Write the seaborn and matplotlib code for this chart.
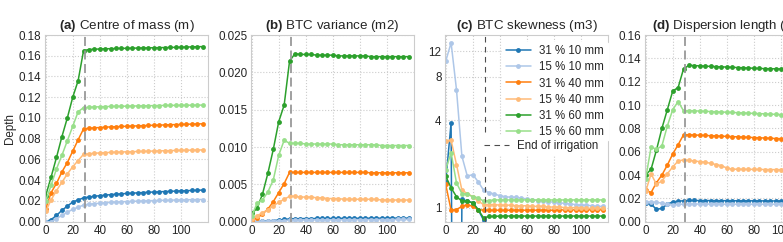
"""
Breakthrough curve moments for the six irrigation treatments
(centre of mass, variance, skewness and dispersion length vs time).
"""

import numpy as np
import matplotlib
matplotlib.use("Agg")
import matplotlib.pyplot as plt
import seaborn as sns

# sampling times, irrigation stops just before day 29
days = list(range(0, 117, 4))
end_irrigation = 29

labels = ['31 % 10 mm', '15 % 10 mm', '31 % 40 mm', '15 % 40 mm', '31 % 60 mm', '15 % 60 mm']
colors = ['#1f77b4', '#aec7e8', '#ff7f0e', '#ffbb78', '#2ca02c', '#98df8a']

# (a) centre of mass (m)
m_31_10 = [0.000, 0.002, 0.006, 0.011, 0.015, 0.019, 0.021, 0.023,
           0.0238, 0.0245, 0.0251, 0.0256, 0.0261, 0.0265, 0.0269, 0.0272, 0.0275, 0.0278, 0.0281,
           0.0284, 0.0286, 0.0288, 0.0291, 0.0293, 0.0295, 0.0297, 0.0299, 0.0301, 0.0303, 0.0305]
m_15_10 = [0.000, 0.000, 0.003, 0.006, 0.009, 0.012, 0.014, 0.016,
           0.0168, 0.0174, 0.0178, 0.0182, 0.0186, 0.0189, 0.0192, 0.0194, 0.0196, 0.0198, 0.0200,
           0.0202, 0.0203, 0.0205, 0.0206, 0.0207, 0.0209, 0.0210, 0.0211, 0.0212, 0.0213, 0.0214]
m_31_40 = [0.012, 0.028, 0.037, 0.048, 0.057, 0.068, 0.079, 0.0895,
           0.0900, 0.0905, 0.0908, 0.0911, 0.0914, 0.0916, 0.0918, 0.0920, 0.0922, 0.0924, 0.0926,
           0.0928, 0.0930, 0.0931, 0.0933, 0.0935, 0.0936, 0.0938, 0.0939, 0.0941, 0.0942, 0.0944]
m_15_40 = [0.010, 0.021, 0.030, 0.038, 0.046, 0.053, 0.059, 0.065,
           0.0655, 0.0660, 0.0663, 0.0666, 0.0668, 0.0670, 0.0672, 0.0674, 0.0675, 0.0677, 0.0678,
           0.0680, 0.0681, 0.0683, 0.0684, 0.0685, 0.0687, 0.0688, 0.0689, 0.0690, 0.0691, 0.0692]
m_31_60 = [0.025, 0.043, 0.062, 0.082, 0.100, 0.120, 0.136, 0.165,
           0.1660, 0.1663, 0.1665, 0.1667, 0.1668, 0.1670, 0.1671, 0.1672, 0.1673, 0.1674, 0.1675,
           0.1676, 0.1677, 0.1678, 0.1679, 0.1680, 0.1681, 0.1682, 0.1684, 0.1685, 0.1687, 0.1688]
m_15_60 = [0.020, 0.035, 0.051, 0.064, 0.078, 0.092, 0.106, 0.110,
           0.1103, 0.1106, 0.1108, 0.1110, 0.1111, 0.1112, 0.1113, 0.1114, 0.1115, 0.1116, 0.1117,
           0.1118, 0.1119, 0.1120, 0.1121, 0.1121, 0.1122, 0.1122, 0.1123, 0.1123, 0.1124, 0.1124]

# (b) BTC variance (m2)
v_31_10 = [0.0, 0.00002, 0.00006, 0.0001, 0.00016, 0.00022, 0.0003, 0.00038,
           0.00040, 0.00041, 0.00042, 0.00042, 0.00043, 0.00043, 0.00044, 0.00044, 0.00045, 0.00045, 0.00045,
           0.00046, 0.00046, 0.00046, 0.00047, 0.00047, 0.00047, 0.00047, 0.00048, 0.00048, 0.00048, 0.00048]
v_15_10 = [0.0, 0.00001, 0.00003, 0.00005, 0.00008, 0.00011, 0.00015, 0.0002,
           0.00021, 0.00022, 0.00023, 0.00023, 0.00024, 0.00024, 0.00025, 0.00025, 0.00026, 0.00026, 0.00027,
           0.00027, 0.00027, 0.00028, 0.00028, 0.00028, 0.00029, 0.00029, 0.00029, 0.00030, 0.00030, 0.00030]
v_31_40 = [0.0002, 0.0005, 0.0010, 0.0017, 0.0027, 0.0039, 0.0051, 0.0066,
           0.0066, 0.0066, 0.0066, 0.0066, 0.0066, 0.0066, 0.0066, 0.0066, 0.0066, 0.0066, 0.0066,
           0.0066, 0.0066, 0.0066, 0.00655, 0.00655, 0.00655, 0.00655, 0.00655, 0.00655, 0.00655, 0.00655]
v_15_40 = [0.0003, 0.0008, 0.0012, 0.0016, 0.0021, 0.0026, 0.0030, 0.0034,
           0.0034, 0.0033, 0.0033, 0.0033, 0.0032, 0.0032, 0.0031, 0.0031, 0.0031, 0.0030, 0.0030,
           0.0030, 0.0030, 0.0030, 0.0030, 0.0030, 0.0029, 0.0029, 0.0029, 0.0029, 0.0029, 0.0029]
v_31_60 = [0.0011, 0.0018, 0.0037, 0.0065, 0.0097, 0.0134, 0.0156, 0.0215,
           0.0225, 0.0224, 0.0224, 0.0224, 0.0223, 0.0223, 0.0223, 0.0223, 0.0222, 0.0222, 0.0222,
           0.0222, 0.0222, 0.0222, 0.0221, 0.0221, 0.0221, 0.0221, 0.0221, 0.0221, 0.0221, 0.0221]
v_15_60 = [0.0007, 0.0025, 0.0029, 0.0040, 0.0056, 0.0089, 0.0109, 0.0105,
           0.0105, 0.0105, 0.0104, 0.0104, 0.0104, 0.0104, 0.0104, 0.0104, 0.0103, 0.0103, 0.0103,
           0.0103, 0.0103, 0.0103, 0.0103, 0.0103, 0.0102, 0.0102, 0.0102, 0.0102, 0.0102, 0.0102]

# (c) BTC skewness (m3), log axis; tiny values fall below the axis
s_31_10 = [1.5, 3.84, 1e-6, 1.14, 1.11, 1.08, 0.97, 0.82,
           0.6, 0.6, 0.6, 0.6, 0.6, 0.6, 0.6, 0.6, 0.6, 0.6, 0.6,
           0.6, 0.6, 0.6, 0.6, 0.6, 0.6, 0.6, 0.6, 0.6, 0.6, 0.6]
s_15_10 = [10.2, 13.7, 6.5, 2.26, 1.65, 1.69, 1.51, 1.32,
           1.27, 1.24, 1.21, 1.19, 1.18, 1.18, 1.16, 1.15, 1.13, 1.12, 1.11,
           1.10, 1.09, 1.08, 1.07, 1.06, 1.05, 1.04, 1.04, 1.03, 1.02, 1.02]
s_31_40 = [1.45, 0.96, 0.97, 1.02, 1.05, 1.02, 0.97, 0.96,
           0.96, 0.96, 0.96, 0.96, 0.96, 0.96, 0.96, 0.96, 0.96, 0.96, 0.96,
           0.96, 0.96, 0.965, 0.965, 0.965, 0.965, 0.965, 0.965, 0.965, 0.965, 0.965]
s_15_40 = [2.87, 2.92, 1.98, 1.32, 1.25, 1.19, 1.11, 1.05,
           1.05, 1.05, 1.04, 1.04, 1.04, 1.03, 1.03, 1.03, 1.02, 1.02, 1.02,
           1.01, 1.01, 1.01, 1.00, 1.00, 1.00, 1.00, 0.99, 0.99, 0.99, 0.99]
s_31_60 = [1.65, 1.37, 1.19, 1.11, 1.11, 1.08, 0.97, 0.85,
           0.87, 0.87, 0.875, 0.875, 0.875, 0.875, 0.875, 0.875, 0.875, 0.875, 0.875,
           0.875, 0.875, 0.875, 0.875, 0.875, 0.875, 0.875, 0.875, 0.875, 0.875, 0.875]
s_15_60 = [1.83, 2.39, 1.48, 1.25, 1.24, 1.19, 1.17, 1.11,
           1.12, 1.13, 1.13, 1.13, 1.13, 1.13, 1.13, 1.13, 1.13, 1.13, 1.13,
           1.13, 1.13, 1.13, 1.13, 1.13, 1.13, 1.13, 1.13, 1.13, 1.13, 1.13]

# (d) dispersion length (m)
d_31_10 = [0.0163, 0.015, 0.0106, 0.0114, 0.015, 0.017, 0.0175, 0.018,
           0.0182, 0.0182, 0.0181, 0.0181, 0.0181, 0.0180, 0.0180, 0.0180, 0.0180, 0.0179, 0.0179,
           0.0179, 0.0179, 0.0179, 0.0178, 0.0178, 0.0178, 0.0178, 0.0178, 0.0178, 0.0178, 0.0178]
d_15_10 = [0.017, 0.017, 0.0165, 0.016, 0.015, 0.014, 0.015, 0.015,
           0.0152, 0.0152, 0.0151, 0.0151, 0.0151, 0.0151, 0.0150, 0.0150, 0.0150, 0.0150, 0.0150,
           0.0150, 0.0150, 0.0150, 0.0150, 0.0150, 0.0150, 0.0150, 0.0150, 0.0150, 0.0150, 0.0150]
d_31_40 = [0.027, 0.025, 0.0335, 0.040, 0.0485, 0.058, 0.066, 0.0745,
           0.0745, 0.0743, 0.0741, 0.0739, 0.0737, 0.0735, 0.0733, 0.0731, 0.0729, 0.0727, 0.0725,
           0.0723, 0.0721, 0.0719, 0.0717, 0.0715, 0.0713, 0.0711, 0.0709, 0.0707, 0.0705, 0.0703]
d_15_40 = [0.026, 0.041, 0.032, 0.035, 0.041, 0.047, 0.052, 0.053,
           0.0525, 0.0520, 0.0515, 0.0510, 0.0500, 0.0490, 0.0480, 0.0460, 0.0450, 0.0450, 0.0449,
           0.0449, 0.0448, 0.0448, 0.0447, 0.0447, 0.0446, 0.0446, 0.0445, 0.0445, 0.0445, 0.0445]
d_31_60 = [0.040, 0.045, 0.0615, 0.080, 0.096, 0.112, 0.115, 0.131,
           0.1340, 0.1338, 0.1335, 0.1333, 0.1331, 0.1329, 0.1327, 0.1325, 0.1323, 0.1321, 0.1319,
           0.1317, 0.1315, 0.1313, 0.1312, 0.1311, 0.1310, 0.1309, 0.1308, 0.1307, 0.1306, 0.1305]
d_15_60 = [0.037, 0.064, 0.062, 0.065, 0.082, 0.096, 0.103, 0.095,
           0.0952, 0.0950, 0.0948, 0.0946, 0.0944, 0.0942, 0.0940, 0.0938, 0.0936, 0.0934, 0.0932,
           0.0930, 0.0928, 0.0926, 0.0924, 0.0922, 0.0920, 0.0918, 0.0917, 0.0916, 0.0915, 0.0914]

panels = [
    (r'$\bf{(a)}$ Centre of mass (m)', [m_31_10, m_15_10, m_31_40, m_15_40, m_31_60, m_15_60]),
    (r'$\bf{(b)}$ BTC variance (m2)', [v_31_10, v_15_10, v_31_40, v_15_40, v_31_60, v_15_60]),
    (r'$\bf{(c)}$ BTC skewness (m3)', [s_31_10, s_15_10, s_31_40, s_15_40, s_31_60, s_15_60]),
    (r'$\bf{(d)}$ Dispersion length (m)', [d_31_10, d_15_10, d_31_40, d_15_40, d_31_60, d_15_60]),
]

sns.set_style('whitegrid', {'grid.linestyle': ':', 'axes.edgecolor': '.8'})
plt.rcParams['font.family'] = ['Liberation Sans', 'DejaVu Sans']
plt.rcParams['mathtext.fontset'] = 'custom'
plt.rcParams['mathtext.rm'] = 'Liberation Sans'
plt.rcParams['mathtext.bf'] = 'Liberation Sans:bold'

W, H = 783, 242
fig = plt.figure(figsize=(W / 100, H / 100), dpi=100)
lefts = [45, 251, 445, 645]
axes = [fig.add_axes([l / W, 20.3 / H, 163 / W, 186.7 / H]) for l in lefts]

for k, (ax, (title, series)) in enumerate(zip(axes, panels)):
    if k == 2:
        ax.set_yscale('log')
    for y, lab, col in zip(series, labels, colors):
        sns.lineplot(x=days, y=y, ax=ax, color=col, label=lab, marker='o',
                     markersize=3.5, markeredgewidth=0, linewidth=1.1, legend=False)
    if k == 2:
        ax.axvline(end_irrigation, color='0.3', lw=0.8, dashes=(5, 4), label='End of irrigation')
    else:
        ax.axvline(end_irrigation, color='0.6', lw=1.3, dashes=(5, 2.5))
    ax.set_xlim(-0.5, 120)
    ax.set_xticks([0, 20, 40, 60, 80, 100])
    ax.set_title(title, fontsize=9.6, pad=4, color='.15')
    ax.tick_params(labelsize=8.4, pad=2.5, length=0)
    ax.set_xlabel('')
    ax.set_ylabel('')

axes[0].set_ylim(0, 0.18)
axes[0].set_yticks(np.arange(0, 0.181, 0.02))
axes[0].yaxis.set_major_formatter('{x:.2f}')
axes[0].set_ylabel('Depth', fontsize=8.4, labelpad=2)

axes[1].set_ylim(0, 0.025)
axes[1].set_yticks(np.arange(0, 0.0251, 0.005))
axes[1].yaxis.set_major_formatter('{x:.3f}')

axes[2].set_ylim(0.8, 15.5)
axes[2].set_yticks([1, 4, 8, 12])
axes[2].yaxis.set_minor_locator(matplotlib.ticker.NullLocator())
axes[2].yaxis.set_major_formatter(matplotlib.ticker.FormatStrFormatter('%d'))

# treatments legend, then the irrigation marker right-aligned just below it
handles, leg_labels = axes[2].get_legend_handles_labels()
leg_kw = dict(fontsize=8.3, frameon=True, facecolor='white', edgecolor='white', framealpha=1,
              handlelength=2.2, handletextpad=0.7, labelspacing=0.35, borderpad=0.3,
              borderaxespad=0)
leg1 = axes[2].legend(handles[:6], leg_labels[:6], loc='upper right',
                      bbox_to_anchor=(0.997, 1 - 7 / 186.7), **leg_kw)
axes[2].add_artist(leg1)
axes[2].legend(handles[6:], leg_labels[6:], loc='upper right',
               bbox_to_anchor=(0.962, 0.458), **leg_kw)

axes[3].set_ylim(0, 0.16)
axes[3].set_yticks(np.arange(0, 0.161, 0.02))
axes[3].yaxis.set_major_formatter('{x:.2f}')

fig.savefig('out.png', dpi=100)
